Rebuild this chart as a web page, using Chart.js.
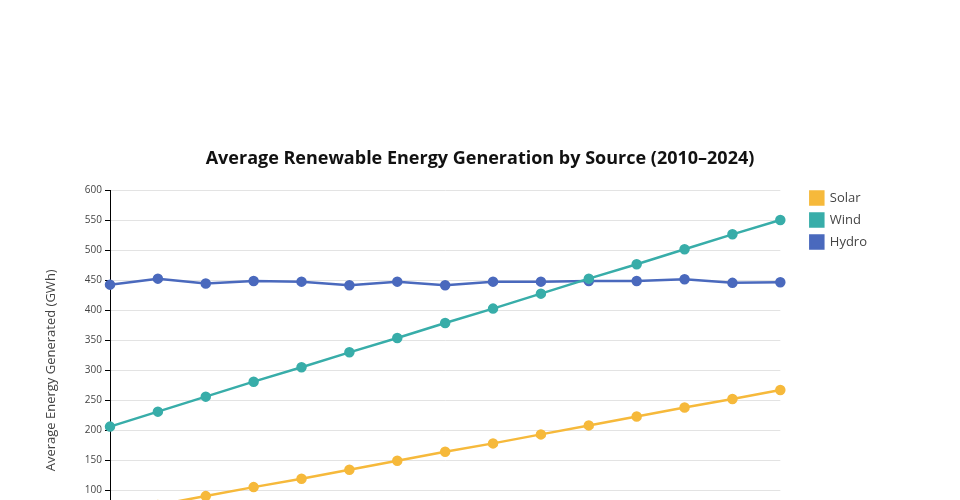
<!DOCTYPE html>
<html>
<head>
<meta charset="utf-8">
<script src="https://cdn.jsdelivr.net/npm/chart.js@4.4.1/dist/chart.umd.min.js"></script>
<style>
  html, body { margin: 0; padding: 0; background: #fff; overflow: hidden; width: 960px; height: 500px; }
  #wrap { width: 960px; height: 620px; }
</style>
</head>
<body>
<div id="wrap"><canvas id="c" width="960" height="620"></canvas></div>
<script>
const years = ['2010','2011','2012','2013','2014','2015','2016','2017','2018','2019','2020','2021','2022','2023','2024'];
const solar = [60, 75, 90, 105, 119, 134, 149, 164, 178, 193, 208, 223, 238, 252, 267];
const wind  = [206, 231, 256, 281, 305, 330, 354, 379, 403, 428, 453, 477, 502, 527, 551];
const hydro = [443, 453, 445, 449, 448, 442, 448, 442, 448, 448, 449, 449, 452, 446, 447];
const yTicks = [0, 50, 100, 150, 200, 250, 300, 350, 400, 450, 500, 550, 600];

const FONT = '"Open Sans", "Noto Sans", sans-serif';
const colors = { solar: '#f6b93b', wind: '#38ada9', hydro: '#4a69bd' };

function ds(label, data, color) {
  return {
    label, data,
    borderColor: color, backgroundColor: color,
    pointBackgroundColor: color, pointBorderColor: color,
    borderWidth: 2.5, pointRadius: 4, pointHoverRadius: 5,
    tension: 0, fill: false
  };
}

// centre the title over the whole canvas and nudge the legend away from the plot
const layoutNudge = {
  id: 'layoutNudge',
  afterLayout(chart) {
    const t = chart.titleBlock;
    if (t) { t.left = 0; t.right = chart.width; t.width = chart.width; }
    const lg = chart.legend;
    if (lg) {
      lg.left += 21; lg.right += 21;
      lg.top -= 8; lg.bottom -= 8;
    }
  }
};

new Chart(document.getElementById('c'), {
  type: 'line',
  data: {
    labels: years,
    datasets: [
      ds('Solar', solar, colors.solar),
      ds('Wind', wind, colors.wind),
      ds('Hydro', hydro, colors.hydro)
    ]
  },
  plugins: [layoutNudge],
  options: {
    responsive: false,
    animation: false,
    layout: { padding: { left: 0, right: 104, top: 0, bottom: 0 } },
    plugins: {
      title: {
        display: true,
        text: 'Average Renewable Energy Generation by Source (2010–2024)',
        color: '#111',
        font: { family: FONT, size: 18, weight: 'bold' },
        padding: { top: 148, bottom: 21 }
      },
      legend: {
        position: 'right',
        align: 'start',
        fullSize: false,
        labels: {
          color: '#444',
          font: { family: FONT, size: 13 },
          boxWidth: 13, boxHeight: 13,
          padding: 9,
          useBorderRadius: false
        }
      },
      tooltip: { enabled: false }
    },
    scales: {
      x: {
        type: 'category',
        offset: false,
        grid: { display: false, drawTicks: true, tickLength: 5, tickColor: '#000' },
        border: { display: true, color: '#000', width: 1 },
        ticks: { color: '#444', font: { family: FONT, size: 10 }, padding: 3 },
        title: { display: true, text: 'Year', color: '#444', font: { family: FONT, size: 12 } },
        afterFit: (s) => { s.height = 70; }
      },
      y: {
        min: 0, max: 600,
        afterBuildTicks: (s) => { s.ticks = yTicks.map(v => ({ value: v })); },
        grid: { color: '#e3e3e3', lineWidth: 1, drawTicks: true, tickLength: 5, tickColor: '#000' },
        border: { display: true, color: '#000', width: 1 },
        ticks: { color: '#444', font: { family: FONT, size: 10 }, padding: 3 },
        title: {
          display: true, text: 'Average Energy Generated (GWh)', color: '#444',
          font: { family: FONT, size: 13 }, padding: { top: 43, bottom: 0 }
        },
        afterFit: (s) => { s.width = 110; }
      }
    }
  }
});
</script>
</body>
</html>
